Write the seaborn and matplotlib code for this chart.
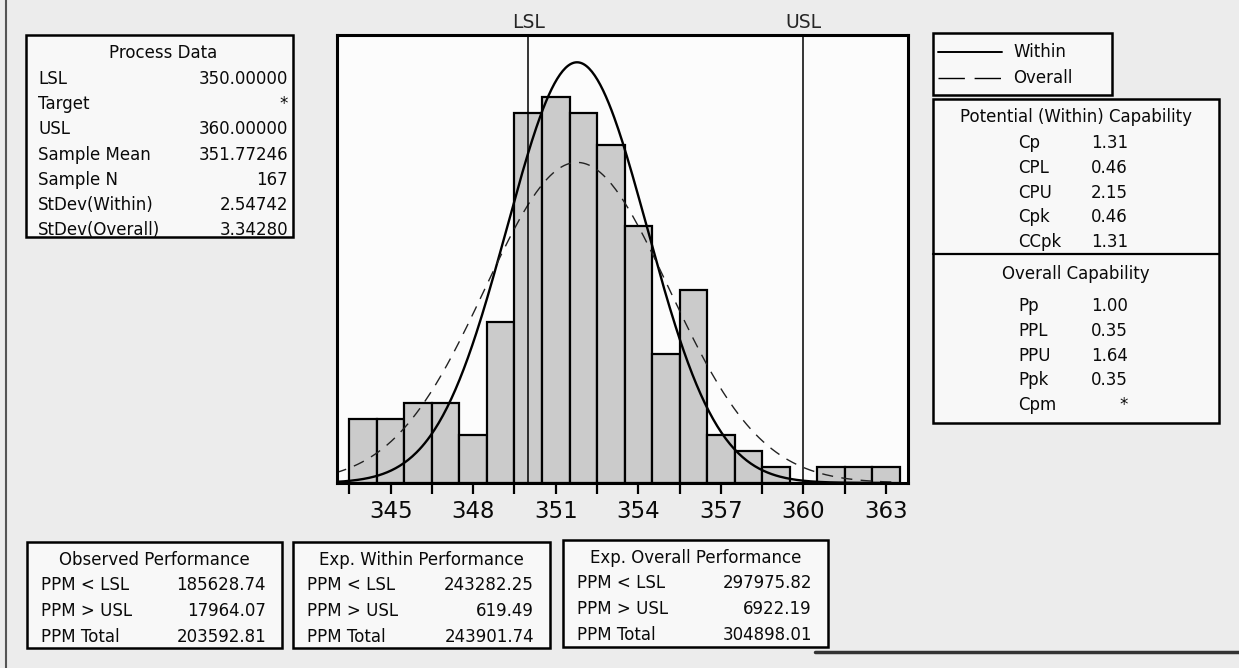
import numpy as np
import pandas as pd
import matplotlib
matplotlib.use("Agg")
import matplotlib.pyplot as plt
import seaborn as sns
from matplotlib.patches import Rectangle
from matplotlib.lines import Line2D

# =======================
# data
# =======================
bin_centers = [344, 345, 346, 347, 348, 349, 350, 351, 352, 353,
               354, 355, 356, 357, 358, 359, 360, 361, 362, 363]
bin_counts = [4, 4, 5, 5, 3, 10, 23, 24, 23, 21,
              16, 8, 12, 3, 2, 1, 0, 1, 1, 1]

lsl, usl = 350.0, 360.0
sample_mean = 351.77246
sample_n = 167
sd_within = 2.54742
sd_overall = 3.34280

process_labels = ["LSL", "Target", "USL", "Sample Mean", "Sample N",
                  "StDev(Within)", "StDev(Overall)"]
process_values = ["350.00000", "*", "360.00000", "351.77246", "167",
                  "2.54742", "3.34280"]

within_labels = ["Cp", "CPL", "CPU", "Cpk", "CCpk"]
within_values = ["1.31", "0.46", "2.15", "0.46", "1.31"]
overall_labels = ["Pp", "PPL", "PPU", "Ppk", "Cpm"]
overall_values = ["1.00", "0.35", "1.64", "0.35", "*"]

perf_titles = ["Observed Performance", "Exp. Within Performance",
               "Exp. Overall Performance"]
perf_labels = ["PPM < LSL", "PPM > USL", "PPM Total"]
perf_values = [["185628.74", "17964.07", "203592.81"],
               ["243282.25", "619.49", "243901.74"],
               ["297975.82", "6922.19", "304898.01"]]

tick_major = [345, 348, 351, 354, 357, 360, 363]
tick_minor = [343.5, 346.5, 349.5, 352.5, 355.5, 358.5, 361.5]

# =======================
# figure
# =======================
W, H = 1239, 668
sns.set_style("white")
plt.rcParams["font.family"] = ["DejaVu Sans"]
fig = plt.figure(figsize=(W / 100, H / 100), dpi=100, facecolor="#ececec")


def fx(x):
    return x / W


def fy(y):
    return 1 - y / H


def box(x0, y0, x1, y1, lw=1.8):
    fig.add_artist(Rectangle((fx(x0), fy(y1)), fx(x1) - fx(x0), fy(y0) - fy(y1),
                             transform=fig.transFigure, facecolor="#f8f8f8",
                             edgecolor="black", linewidth=lw))


def hline(x0, x1, y, **kw):
    fig.add_artist(Line2D([fx(x0), fx(x1)], [fy(y), fy(y)],
                          transform=fig.transFigure, **kw))


def txt(x, y, s, ha="left", size=12):
    fig.text(fx(x), fy(y), s, ha=ha, va="center", fontsize=size, color="#0a0a0a")


# page edges of the scan
fig.add_artist(Line2D([fx(6), fx(6)], [0, 1], transform=fig.transFigure,
                      color="#555555", linewidth=1.5))
hline(815, 1239, 652, color="#333333", linewidth=2.5)

# =======================
# histogram
# =======================
ax = fig.add_axes([fx(337), fy(483), fx(908) - fx(337), fy(35) - fy(483)])
ax.set_facecolor("#fcfcfc")
df = pd.DataFrame({"valor": bin_centers, "n": bin_counts})
sns.histplot(data=df, x="valor", weights="n", binwidth=1, binrange=(343.5, 363.5),
             ax=ax, color="#cbcbcb", alpha=1, edgecolor="black", linewidth=1.6)

xs = np.linspace(343.0, 363.2, 400)
area = sample_n * 1.0
dens_within = area * np.exp(-0.5 * ((xs - sample_mean) / sd_within) ** 2) / (sd_within * np.sqrt(2 * np.pi))
dens_overall = area * np.exp(-0.5 * ((xs - sample_mean) / sd_overall) ** 2) / (sd_overall * np.sqrt(2 * np.pi))
sns.lineplot(x=xs, y=dens_within, ax=ax, color="black", linewidth=1.7)
sns.lineplot(x=xs, y=dens_overall, ax=ax, color="#222222", linewidth=1.0,
             linestyle=(0, (8, 6)))

ax.axvline(lsl, color="black", linewidth=1.1)
ax.axvline(usl, color="black", linewidth=1.1)
ax.text(lsl, 1.027, "LSL", transform=ax.get_xaxis_transform(), ha="center",
        va="center", fontsize=13.5)
ax.text(usl, 1.027, "USL", transform=ax.get_xaxis_transform(), ha="center",
        va="center", fontsize=13.5)

ax.set_xlim(343.05, 363.8)
ax.set_ylim(0, 27.85)
ax.set_xticks(tick_major)
ax.set_xticklabels([str(t) for t in tick_major], fontsize=16.5)
ax.set_xticks(tick_minor, minor=True)
ax.tick_params(axis="x", which="both", direction="out", length=8, width=1.6,
               color="black", pad=4.5, bottom=True, labelcolor="#0a0a0a")
ax.set_yticks([])
ax.set_xlabel("")
ax.set_ylabel("")
for s in ax.spines.values():
    s.set_linewidth(2.2)
    s.set_color("black")

# =======================
# process data box
# =======================
box(26, 35, 293, 237)
txt(163, 53, "Process Data", ha="center")
for i, (lab, val) in enumerate(zip(process_labels, process_values)):
    y = 79 + i * 25.2
    txt(38, y, lab)
    txt(288, y, val, ha="right")

# =======================
# legend box
# =======================
box(933, 33, 1112, 95)
hline(938, 1002, 52, color="black", linewidth=1.4)
hline(938, 1002, 78, color="black", linewidth=1.0, linestyle=(0, (19, 7)))
txt(1013, 52, "Within")
txt(1013, 78, "Overall")

# =======================
# capability box
# =======================
box(933, 99, 1219, 423)
hline(933, 1219, 254, color="black", linewidth=1.6)
txt(1076, 117, "Potential (Within) Capability", ha="center")
for i, (lab, val) in enumerate(zip(within_labels, within_values)):
    y = 143 + i * 24.8
    txt(1018, y, lab)
    txt(1128, y, val, ha="right")
txt(1076, 274, "Overall Capability", ha="center")
for i, (lab, val) in enumerate(zip(overall_labels, overall_values)):
    y = 306 + i * 24.8
    txt(1018, y, lab)
    txt(1128, y, val, ha="right")

# =======================
# performance boxes
# =======================
perf_boxes = [(27, 542, 282, 648), (293, 542, 550, 648), (563, 540, 828, 647)]
for (x0, y0, x1, y1), title, vals in zip(perf_boxes, perf_titles, perf_values):
    box(x0, y0, x1, y1)
    txt((x0 + x1) / 2, y0 + 18, title, ha="center")
    for i, (lab, val) in enumerate(zip(perf_labels, vals)):
        y = y0 + 43 + i * 26
        txt(x0 + 14, y, lab)
        txt(x1 - 16, y, val, ha="right")

plt.savefig("out.png", dpi=100, facecolor=fig.get_facecolor())
